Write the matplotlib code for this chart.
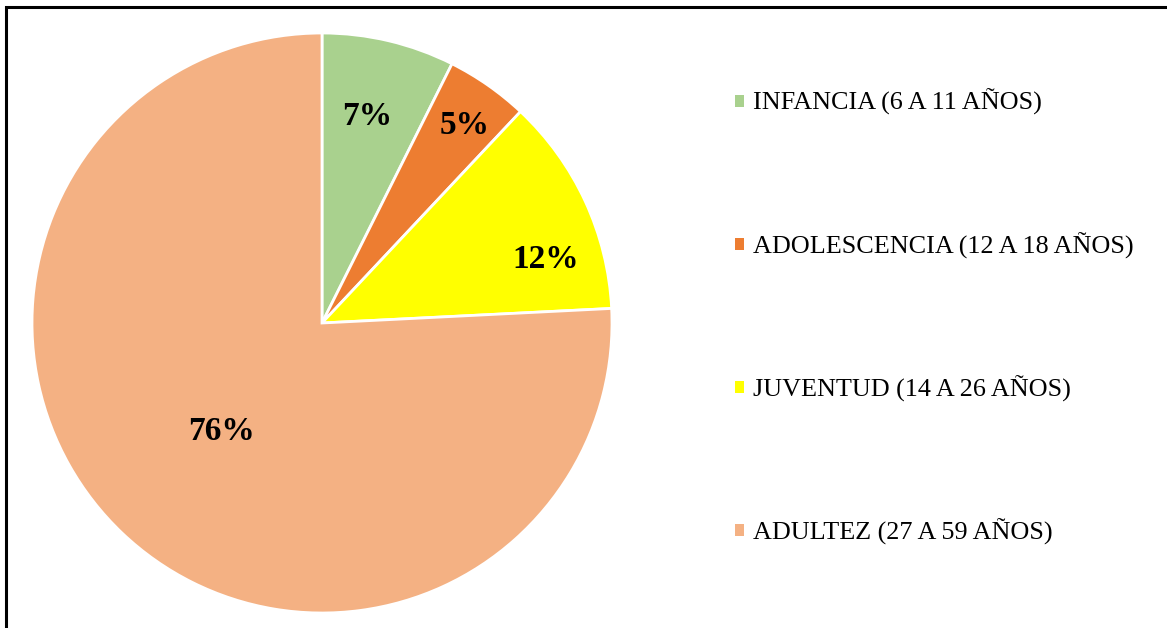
import matplotlib
matplotlib.use("Agg")
import matplotlib.pyplot as plt
from matplotlib.patches import Rectangle
import numpy as np

categories = ["INFANCIA (6 A 11 AÑOS)", "ADOLESCENCIA (12 A 18 AÑOS)",
              "JUVENTUD (14 A 26 AÑOS)", "ADULTEZ (27 A 59 AÑOS)"]
values = [7.4, 4.6, 12.2, 75.8]
colors = ["#A9D18E", "#ED7D31", "#FFFF00", "#F4B183"]
pct_labels = ["7%", "5%", "12%", "76%"]

plt.rcParams['font.family'] = ['Liberation Serif', 'DejaVu Serif']

W, H = 1167, 628
fig = plt.figure(figsize=(W / 100, H / 100), dpi=100)
fig.patch.set_facecolor("white")

# pie axes: centre (322, 323) px, radius 290 px
cx, cy, r = 322, 323, 290
ax = fig.add_axes([(cx - r) / W, (H - cy - r) / H, 2 * r / W, 2 * r / H])
wedges, _ = ax.pie(values, colors=colors, startangle=90, counterclock=False,
                   radius=1.0, wedgeprops=dict(edgecolor="white", linewidth=2))
ax.set_xlim(-1, 1)
ax.set_ylim(-1, 1)
ax.set_aspect("equal")
ax.axis("off")

# label placement (radial fraction, angle offset in degrees) similar to Excel best fit
label_r = [0.73, 0.84, 0.80, 0.51]
label_dtheta = [1, -1, -9, 1]
for w, lab, rr, dt in zip(wedges, pct_labels, label_r, label_dtheta):
    th = np.deg2rad((w.theta1 + w.theta2) / 2 + dt)
    ax.text(rr * np.cos(th), rr * np.sin(th), lab, ha="center", va="center",
            fontsize=24, fontweight="bold", color="black")

leg = fig.legend(wedges, categories, loc="upper left",
                 bbox_to_anchor=(735 / W, 1 - 89 / H), frameon=False,
                 fontsize=18.8, handlelength=0.33, handleheight=0.33,
                 handletextpad=0.35, labelspacing=4.47, borderpad=0,
                 borderaxespad=0)
for h in leg.legend_handles:
    h.set_edgecolor("none")

# outer frame (left and top visible)
fig.add_artist(Rectangle((6 / W, -0.1), 1.2, (H - 7) / H + 0.1,
                         transform=fig.transFigure, fill=False,
                         edgecolor="black", linewidth=2.2))

fig.savefig("out.png", dpi=100)
